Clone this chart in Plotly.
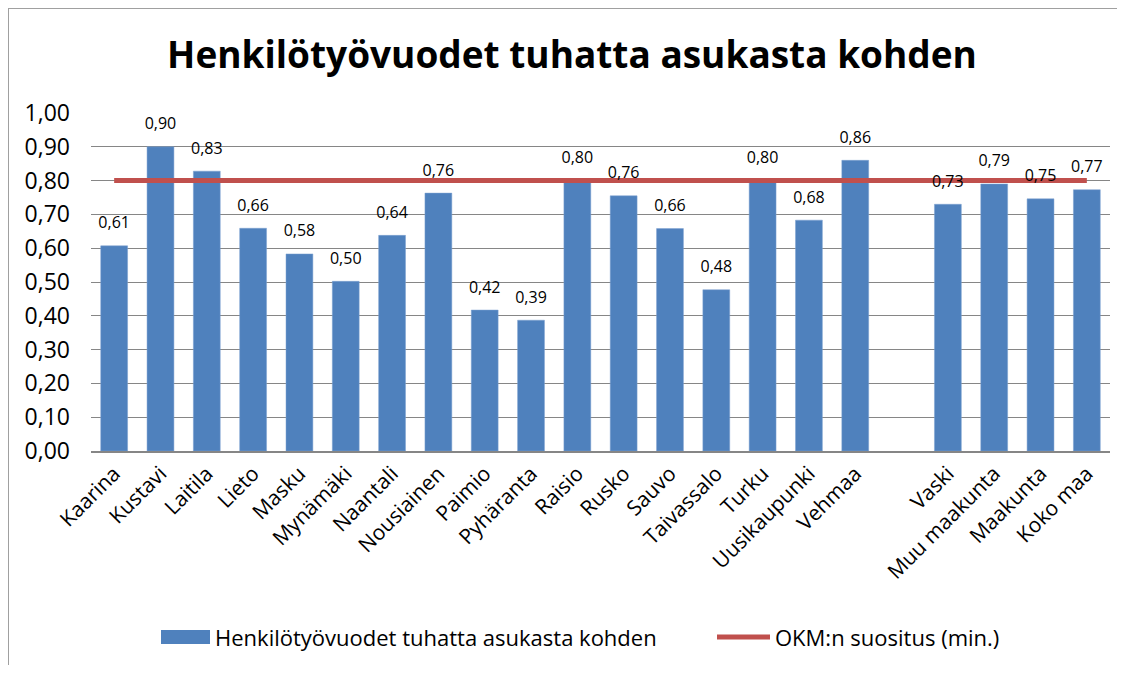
import plotly.graph_objects as go

categories = ["Kaarina", "Kustavi", "Laitila", "Lieto", "Masku", "Mynämäki", "Naantali",
              "Nousiainen", "Paimio", "Pyhäranta", "Raisio", "Rusko", "Sauvo", "Taivassalo",
              "Turku", "Uusikaupunki", "Vehmaa", " ", "Vaski", "Muu maakunta", "Maakunta", "Koko maa"]
values = [0.607, 0.90, 0.828, 0.659, 0.583, 0.502, 0.638, 0.763, 0.417, 0.387, 0.80, 0.755,
          0.658, 0.477, 0.80, 0.683, 0.86, None, 0.73, 0.79, 0.746, 0.773]
okm_values = [0.80, 0.80, 0.80, 0.80, 0.80, 0.80, 0.80, 0.80, 0.80, 0.80, 0.80, 0.80,
              0.80, 0.80, 0.80, 0.80, 0.80, 0.80, 0.80, 0.80, 0.80, 0.80]
y_ticks = [0.0, 0.1, 0.2, 0.3, 0.4, 0.5, 0.6, 0.7, 0.8, 0.9, 1.0]
bar_name = "Henkilötyövuodet tuhatta asukasta kohden"
line_name = "OKM:n suositus (min.)"

FONT = "Open Sans"
W, H = 1109, 657                  # page has an 8px body margin
L, R, T, B = 83, 1102, 105, 443   # plot area in figure pixels
PW, PH = R - L, B - T


def px(x):
    return (x - L) / PW


def py(y):
    return (B - y) / PH


BLUE = "#4F81BD"
RED = "#C0504D"

fig = go.Figure()
fig.add_trace(go.Bar(
    x=categories, y=values, name=bar_name,
    marker=dict(color=BLUE, line=dict(color="#7DA1D0", width=0.5)),
    showlegend=False,
))
fig.add_trace(go.Scatter(
    x=categories, y=okm_values, name=line_name, mode="lines",
    line=dict(color=RED, width=5), connectgaps=True, showlegend=False,
))
fig.add_trace(go.Scatter(
    x=categories, y=values, mode="markers+text", name="labels",
    marker=dict(size=20, color="rgba(0,0,0,0)"),
    texttemplate="%{y:.2f}", textposition="top center", cliponaxis=False,
    textfont=dict(family=FONT, size=16, color="#000000"),
    showlegend=False, hoverinfo="skip",
))

# legend drawn manually (fig pixel coords = screen - 8)
ly = 629
shapes = [
    dict(type="line", xref="paper", yref="paper",
         x0=px(0), x1=px(W + 20), y0=py(0), y1=py(0),
         line=dict(color="#A0A0A0", width=2), layer="below"),
    dict(type="line", xref="paper", yref="paper",
         x0=px(0), x1=px(0), y0=py(0), y1=py(H + 20),
         line=dict(color="#A0A0A0", width=2), layer="below"),
    dict(type="rect", xref="paper", yref="paper",
         x0=px(153), x1=px(202), y0=py(ly + 7), y1=py(ly - 7),
         line=dict(width=0), fillcolor=BLUE),
    dict(type="line", xref="paper", yref="paper",
         x0=px(709), x1=px(762), y0=py(ly), y1=py(ly),
         line=dict(color=RED, width=5)),
]
annotations = [
    dict(text=bar_name, xref="paper", yref="paper", x=px(205), y=py(ly),
         xanchor="left", yanchor="middle", showarrow=False,
         font=dict(family=FONT, size=22, color="#000000")),
    dict(text=line_name, xref="paper", yref="paper", x=px(765), y=py(ly),
         xanchor="left", yanchor="middle", showarrow=False,
         font=dict(family=FONT, size=22, color="#000000")),
]

fig.update_layout(
    width=W, height=H,
    separators=", ",
    paper_bgcolor="white", plot_bgcolor="white",
    margin=dict(l=L, r=W - R, t=T, b=H - B, autoexpand=False),
    bargap=0.42,
    font=dict(family=FONT, color="#000000"),
    title=dict(text="<b>Henkilötyövuodet tuhatta asukasta kohden</b>",
               xref="container", x=564 / W, xanchor="center", y=1 - 47 / H, yanchor="middle",
               font=dict(family=FONT, size=37, color="#000000")),
    showlegend=False,
    xaxis=dict(type="category", categoryorder="array", categoryarray=categories,
               range=[-0.5, len(categories) - 0.5],
               tickangle=-45, tickfont=dict(family=FONT, size=21),
               showline=True, linecolor="#868686", linewidth=2, ticks="", showgrid=False),
    yaxis=dict(range=[0, 1.0], tickvals=y_ticks, tickformat=".2f",
               tickfont=dict(family=FONT, size=23), ticklabelstandoff=20,
               showgrid=True, gridcolor="#868686", gridwidth=1, zeroline=False,
               showline=False, ticks="", ticklen=0),
    shapes=shapes,
    annotations=annotations,
)

fig.write_html("out.html")
